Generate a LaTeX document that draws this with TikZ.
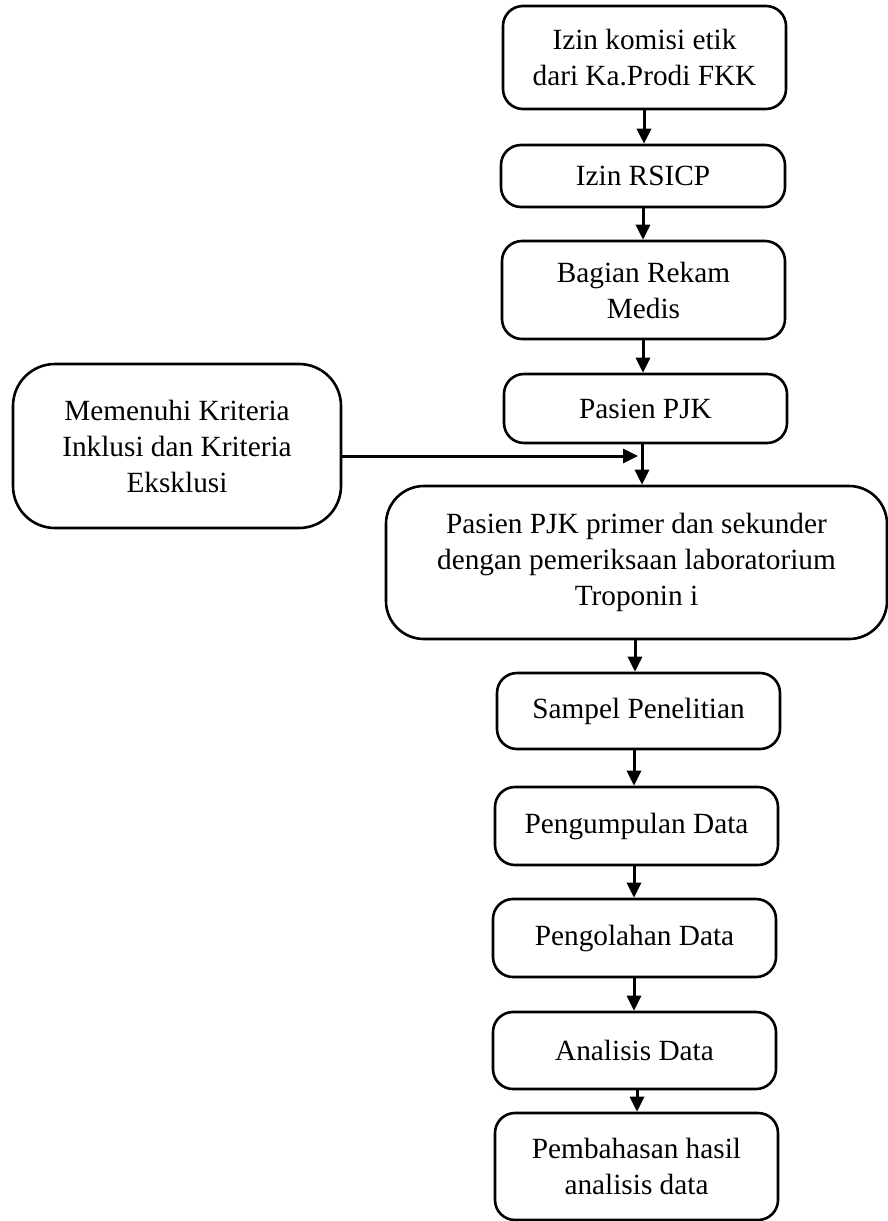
\documentclass[tikz,border=0pt]{standalone}
\usepackage{fontspec}
\setmainfont{Liberation Serif}
\usetikzlibrary{arrows.meta}
\begin{document}
\begin{tikzpicture}[x=1pt,y=-1pt,
  box/.style={draw, line width=2.6pt, rounded corners=20pt, align=center, inner sep=0pt,
    font=\fontsize{29.3}{36}\selectfont},
  arr/.style={line width=3pt, -{Triangle[length=15pt,width=14pt]}}]
\useasboundingbox (0,0) rectangle (887,1221);
\node[box, minimum width=283pt, minimum height=103pt] (n1) at (644.5,57.5) {Izin komisi etik\\dari Ka.Prodi FKK};
\node[box, minimum width=284pt, minimum height=62pt] (n2) at (643,176) {Izin RSICP};
\node[box, minimum width=283pt, minimum height=98pt] (n3) at (643.5,290) {Bagian Rekam\\Medis};
\node[box, minimum width=283pt, minimum height=69pt] (n4) at (645.5,408.5) {Pasien PJK};
\node[box, rounded corners=42pt, minimum width=328pt, minimum height=164pt] (left) at (177,446) {Memenuhi Kriteria\\Inklusi dan Kriteria\\Eksklusi};
\node[box, rounded corners=38pt, minimum width=501pt, minimum height=153pt] (n6) at (636.5,562.5) {Pasien PJK primer dan sekunder\\dengan pemeriksaan laboratorium\\Troponin i};
\node[box, minimum width=283pt, minimum height=76pt] (n7) at (638.5,711) {Sampel Penelitian};
\node[box, minimum width=283pt, minimum height=78pt] (n8) at (636.5,826) {Pengumpulan Data};
\node[box, minimum width=283pt, minimum height=78pt] (n9) at (634.5,938) {Pengolahan Data};
\node[box, minimum width=283pt, minimum height=77pt] (n10) at (634.5,1050.5) {Analisis Data};
\node[box, minimum width=283pt, minimum height=107pt] (n11) at (636.5,1166.5) {Pembahasan hasil\\analisis data};
\draw[arr] (n1.south -| 644,0) -- (n2.north -| 644,0);
\draw[arr] (n2.south -| 643,0) -- (n3.north -| 643,0);
\draw[arr] (n3.south -| 643,0) -- (n4.north -| 643,0);
\draw[arr] (n4.south -| 642,0) -- (n6.north -| 642,0);
\coordinate (hx) at (638,456);
\draw[arr] (left.east |- hx) -- (hx);
\draw[arr] (n6.south -| 635,0) -- (n7.north -| 635,0);
\draw[arr] (n7.south -| 634,0) -- (n8.north -| 634,0);
\draw[arr] (n8.south -| 634,0) -- (n9.north -| 634,0);
\draw[arr] (n9.south -| 634,0) -- (n10.north -| 634,0);
\draw[arr] (n10.south -| 637,0) -- (n11.north -| 637,0);
\end{tikzpicture}
\end{document}
